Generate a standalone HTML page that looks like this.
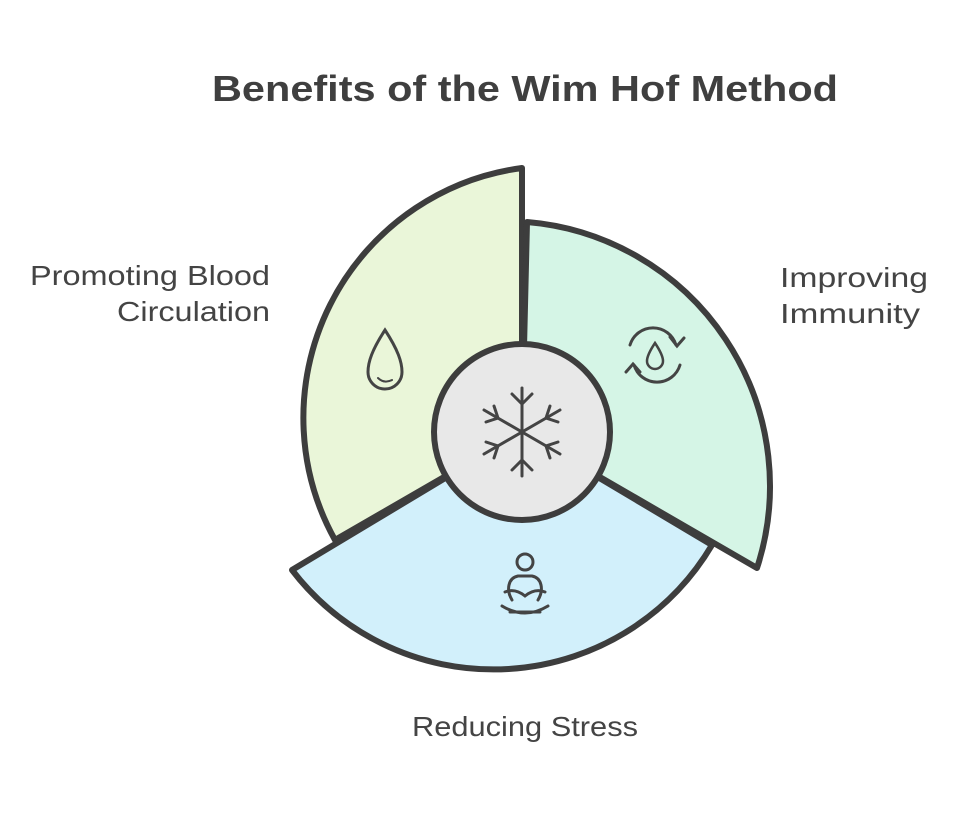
<!DOCTYPE html>
<html><head><meta charset="utf-8"><style>
body{margin:0;background:#fff;width:979px;height:816px;overflow:hidden;font-family:"Liberation Sans",sans-serif;}
</style></head><body>
<svg width="979" height="816" viewBox="0 0 979 816" xmlns="http://www.w3.org/2000/svg">
<text x="212" y="101" textLength="626" lengthAdjust="spacingAndGlyphs" font-family="Liberation Sans, sans-serif" font-weight="bold" font-size="36" fill="#3f3f3f">Benefits of the Wim Hof Method</text>
<g stroke="#3d3d3d" stroke-width="6" stroke-linejoin="round" stroke-linecap="round">
<path d="M522,168 A252 252 0 0 0 335,540 L522,432 Z" fill="#eaf6d9"/>
<path d="M527,222 A265 265 0 0 1 757,568 L522,432 Z" fill="#d5f5e6"/>
<path d="M292,570 L522,432 L712,545 A254 254 0 0 1 292,570 Z" fill="#d2f0fb"/>
<circle cx="522" cy="432" r="88" fill="#e8e8e8"/>
</g>
<g stroke="#444" stroke-width="3" fill="none" stroke-linecap="round">
<line x1="522" y1="388" x2="522" y2="476"/>
<line x1="484" y1="410" x2="560" y2="454"/>
<line x1="484" y1="454" x2="560" y2="410"/>
<path d="M512,394 L522,404 L532,394 M512,470 L522,460 L532,470"/>
<path d="M486,422 L498,418 L494,406 M558,442 L546,446 L550,458"/>
<path d="M486,442 L498,446 L494,458 M558,422 L546,418 L550,406"/>
<path d="M385,330 C372,350 368,362 368,372 A17 17 0 0 0 402,372 C402,362 398,350 385,330 Z"/>
<path d="M378,378 Q384,384 392,380" stroke-width="2"/>
<path d="M630,345 A24 24 0 0 1 676,345 M680,365 A24 24 0 0 1 634,365"/>
<path d="M670,337 L677,346 L684,338 M640,372 L633,364 L626,372"/>
<path d="M655,343 C649,352 647,357 647,361 A8 8 0 0 0 663,361 C663,357 661,352 655,343 Z" stroke-width="2.5"/>
<circle cx="525" cy="562" r="8"/>
<path d="M512,600 C506,590 508,578 518,576 L532,576 C542,578 544,590 538,600"/>
<path d="M505,592 Q515,588 525,596 Q535,588 545,592"/>
<path d="M502,606 Q525,620 548,606 M510,612 L540,612"/>
</g>
<g font-family="Liberation Sans, sans-serif" font-size="28" fill="#444">
<text x="30" y="285" textLength="240" lengthAdjust="spacingAndGlyphs">Promoting Blood</text>
<text x="117" y="321" textLength="153" lengthAdjust="spacingAndGlyphs">Circulation</text>
<text x="780" y="287" textLength="148" lengthAdjust="spacingAndGlyphs">Improving</text>
<text x="780" y="323" textLength="140" lengthAdjust="spacingAndGlyphs">Immunity</text>
<text x="412" y="736" textLength="226" lengthAdjust="spacingAndGlyphs">Reducing Stress</text>
</g>
</svg>
</body></html>
